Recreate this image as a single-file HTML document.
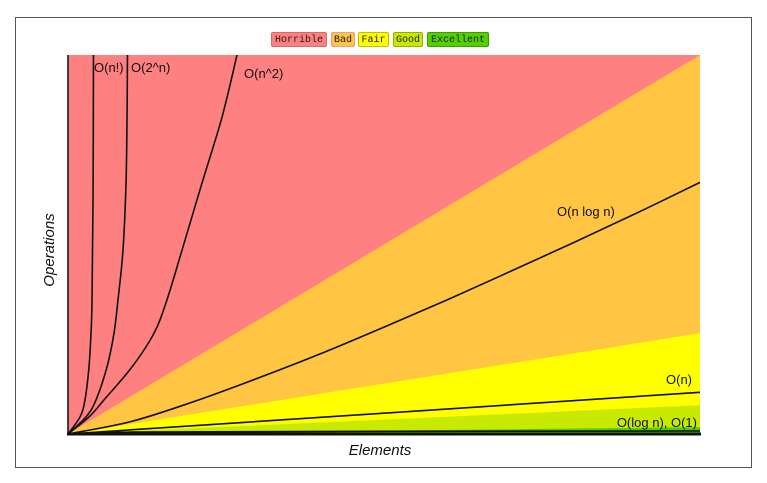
<!DOCTYPE html>
<html><head><meta charset="utf-8"><style>
body{margin:0;background:#fff;width:767px;height:483px;overflow:hidden;font-family:"Liberation Sans",sans-serif}
#frame{position:absolute;left:15px;top:17px;width:735px;height:449px;border:1px solid #555}
.lg{position:absolute;top:32px;height:15px;font:10px "Liberation Mono",monospace;line-height:15px;text-align:center;box-sizing:border-box;border:1px solid rgba(0,0,0,.25);border-radius:2px;color:#222;white-space:nowrap}
</style></head><body>
<div id="frame"></div>
<div class="lg" style="left:271px;width:56px;background:#ff8080;border-color:#d66">Horrible</div>
<div class="lg" style="left:331px;width:24px;background:#ffc543;border-color:#e99">Bad</div>
<div class="lg" style="left:358px;width:31px;background:#ffff00">Fair</div>
<div class="lg" style="left:393px;width:30px;background:#c8ea00">Good</div>
<div class="lg" style="left:427px;width:62px;background:#53d000">Excellent</div>
<svg id="c" width="767" height="483" style="position:absolute;left:0;top:0"></svg>
<script>
// data
const regionNames=['horrible','bad','fair','good','excellent'];
const regionColors=['#ff8080','#ffc543','#ffff00','#c8ea00','#53d000'];
const regionTopAt100=[1000,1000,266,76,18];
const regionLinear=[false,true,true,true,true];
const factN=[0,1.90,2.69,3.32,3.64,3.80,3.96,4.03];
const factV=[0,45,90,177,266,354,617,1000];
const expN=[0,2.85,4.43,6.17,7.28,7.91,8.70,9.18,9.34,9.41];
const expV=[0,45,90,177,266,354,485,662,836,1000];
const sqN=[0,3.32,5.70,10.13,13.61,15.66,18.04,21.2,24.37,26.74];
const sqV=[0,45,90,177,266,354,485,662,836,1000];
const nlnN=[0,10,20,30,40,50,60,70,80,90,100];
const nlnV=[0,33,86,147,212,282,354,429,505,583,664];
const linN=[0,100];
const linV=[0,110];
const logN=[0,10,50,100];
const logV=[0,5,7,8];
const x=n=>68+n/100*632, y=v=>434-v/1000*379;
const svg=document.getElementById('c'),NS='http://www.w3.org/2000/svg';
function mk(t,a){const e=document.createElementNS(NS,t);for(const k in a)e.setAttribute(k,a[k]);svg.appendChild(e);return e;}
function smooth(ps){
  let d='M'+ps[0][0]+','+ps[0][1];
  for(let i=0;i<ps.length-1;i++){
    const p0=ps[Math.max(0,i-1)],p1=ps[i],p2=ps[i+1],p3=ps[Math.min(ps.length-1,i+2)];
    const c1=[p1[0]+(p2[0]-p0[0])/6,p1[1]+(p2[1]-p0[1])/6];
    const c2=[p2[0]-(p3[0]-p1[0])/6,p2[1]-(p3[1]-p1[1])/6];
    d+=` C${c1[0]},${c1[1]} ${c2[0]},${c2[1]} ${p2[0]},${p2[1]}`;
  }
  return d;
}
regionNames.forEach((r,i)=>{
  let p;
  if(!regionLinear[i]) p=`${x(0)},${y(0)} ${x(0)},${y(1000)} ${x(100)},${y(1000)} ${x(100)},${y(0)}`;
  else p=`${x(0)},${y(0)} ${x(100)},${y(regionTopAt100[i])} ${x(100)},${y(0)}`;
  const e=mk('polygon',{points:p,fill:regionColors[i]});
  
  
});
const series=[['n-factorial',factN,factV],['two-pow-n',expN,expV],['n-squared',sqN,sqV],['n-log-n',nlnN,nlnV],['linear',linN,linV],['log-n',logN,logV]];
series.forEach(([nm,ns,vs])=>{
  const pts=ns.map((n,i)=>[x(n),y(Math.min(vs[i],1000))]);
  const e=mk('path',{d:smooth(pts),fill:'none',stroke:'#111','stroke-width':1.6});
  
  
});
let a=mk('line',{x1:67,y1:434,x2:701,y2:434,stroke:'#111','stroke-width':3});


a=mk('line',{x1:68,y1:55,x2:68,y2:435,stroke:'#111','stroke-width':1.5});


const labels=[['O(n!)',94,72,'start'],['O(2^n)',131,72,'start'],['O(n^2)',244,78,'start'],['O(n log n)',557,216,'start'],['O(n)',692,384,'end'],['O(log n), O(1)',697,427,'end']];
labels.forEach(([t,lx,ly,an])=>{
  const e=mk('text',{x:lx,y:ly,'font-size':13,'text-anchor':an,fill:'#111','font-family':'Liberation Sans, sans-serif'});
  e.textContent=t;
  
  
});
let t=mk('text',{x:380,y:455,'font-size':15,'font-style':'italic','text-anchor':'middle',fill:'#111'});
t.textContent='Elements';


t=mk('text',{x:0,y:0,'font-size':15,'font-style':'italic','text-anchor':'middle',fill:'#111',transform:'translate(54,250) rotate(-90)'});
t.textContent='Operations';


</script>
</body></html>
